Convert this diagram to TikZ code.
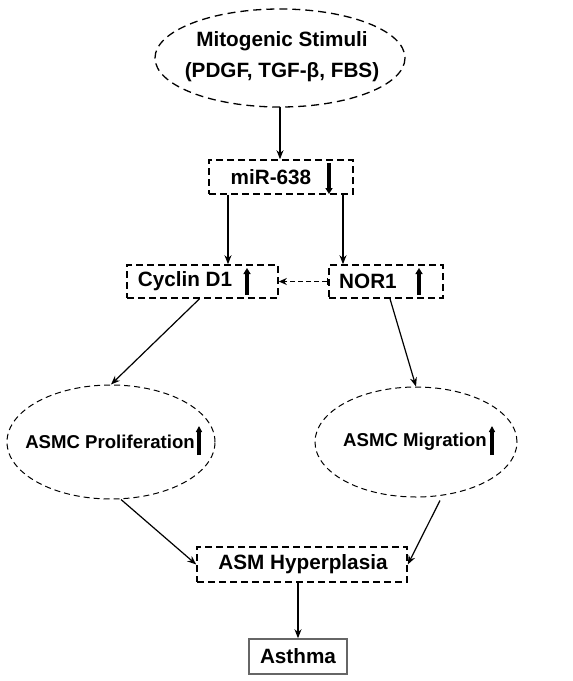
\documentclass[tikz,border=0pt]{standalone}
\usepackage{fontspec}
\setmainfont{Liberation Sans}
\usetikzlibrary{shapes.geometric,arrows.meta}
\begin{document}
\begin{tikzpicture}[x=1pt,y=-1pt,
  txt/.style={font=\fontsize{20.7}{31}\selectfont\bfseries, inner sep=0pt},
  etxt/.style={font=\fontsize{18.6}{23}\selectfont\bfseries, inner sep=0pt, anchor=east},
  dbox/.style={draw, line width=1.6pt, dash pattern=on 7pt off 4pt},
  dell/.style={draw, line width=1pt, dash pattern=on 6pt off 4pt},
  conn/.style={line width=1.2pt, -{Stealth[length=9pt,width=7pt]}},
  bigup/.style={line width=3.4pt, -{Triangle[length=6pt,width=7pt]}}]
\useasboundingbox (0,0) rectangle (573,681);
% top ellipse
\draw[line width=1.3pt, dash pattern=on 8pt off 5pt] (280,58) ellipse [x radius=125, y radius=49];
\node[txt, align=center] (mito) at (282,57) {Mitogenic Stimuli\\(PDGF, TGF-β, FBS)};
\coordinate (mitob) at (280,107);
% miR-638
\node[dbox, minimum width=144pt, minimum height=34pt] (mir) at (281,177) {};
\node[txt] (mirt) at (271,177) {miR-638};
\draw[bigup] (329,163) -- (329,194);
% Cyclin and NOR1
\node[dbox, minimum width=151pt, minimum height=33pt] (cyc) at (202.5,281.5) {};
\node[txt] (cyct) at (185,281) {Cyclin D1};
\draw[bigup] (247,295) -- (247,268);
\node[dbox, minimum width=114pt, minimum height=33pt] (nor) at (386,281.5) {};
\node[txt] (nort) at (368,281) {NOR1};
\draw[bigup] (419,295) -- (419,268);
% lower ellipses
\node[dell, ellipse, minimum width=208pt, minimum height=114pt] (prol) at (111,442) {};
\node[etxt] (prolt) at (195,442) {ASMC Proliferation};
\draw[line width=3.2pt, -{Triangle[length=6pt,width=6pt]}] (199,455) -- (199,426);
\node[dell, ellipse, minimum width=202pt, minimum height=110pt] (mig) at (416,442) {};
\node[etxt] (migt) at (487,442) {ASMC Migration};
\draw[line width=3.2pt, -{Triangle[length=6pt,width=6pt]}] (492,455) -- (492,426);
% hyperplasia and asthma
\node[dbox, minimum width=210pt, minimum height=35pt] (hyp) at (302,564.5) {};
\node[txt] (hypt) at (303,564) {ASM Hyperplasia};
\node[draw=gray!80!black, line width=1.5pt, minimum width=98pt, minimum height=35pt] (ast) at (298,656.5) {};
\node[txt] (astt) at (298,656) {Asthma};
% connectors
\draw[conn] (mitob) -- (mir.north -| mitob);
\draw[conn] ([xshift=-53pt]mir.south) -- ([xshift=-53pt]mir.south |- cyc.north);
\draw[conn] ([xshift=62pt]mir.south) -- ([xshift=62pt]mir.south |- nor.north);
\draw[line width=1.4pt, dash pattern=on 5pt off 3pt, {Bar[width=7pt]}-{Stealth[length=8pt,width=7pt]}] (nor.west) -- (cyc.east);
\draw[conn] ([xshift=-3pt]cyc.south) -- (prol.north);
\draw[conn] ([xshift=4pt]nor.south) -- (mig.north);
\draw[conn] (prol.south) ++(10pt,0) -- (hyp.west);
\draw[conn] (mig.south) ++(24pt,-3pt) -- (hyp.east);
\draw[conn] (hyp.south -| ast.north) -- (ast.north);
\end{tikzpicture}
\end{document}
